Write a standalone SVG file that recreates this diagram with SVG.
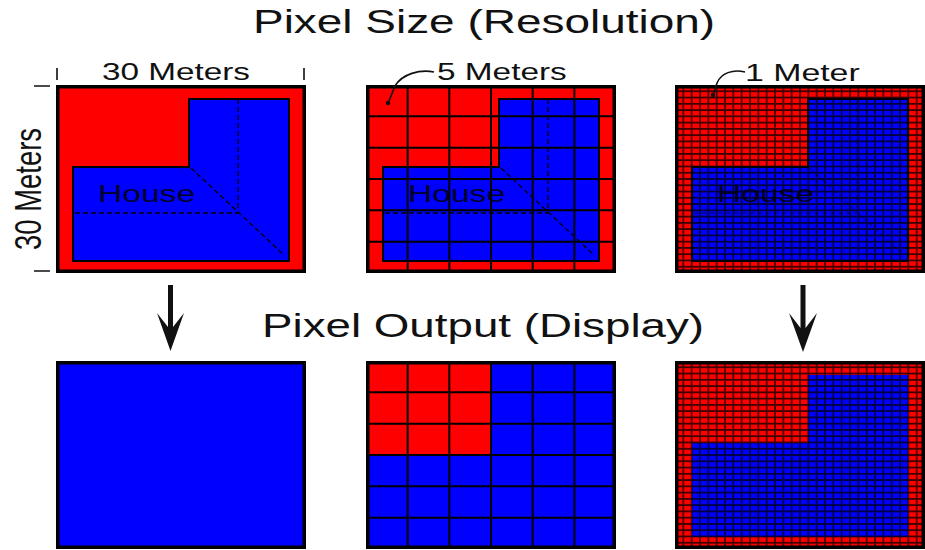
<svg xmlns="http://www.w3.org/2000/svg" width="925" height="550" viewBox="0 0 925 550">
  <style>
    .txt{font-family:"Liberation Sans",Arial,Helvetica,sans-serif;fill:#111}
    .house-lbl{font-family:"Liberation Sans",Arial,Helvetica,sans-serif;fill:#00002a;font-size:24px}
    .red{fill:#ff0000}
    .blue{fill:#0000ff}
    .house{fill:#0000ff;stroke:#000;stroke-width:2}
    .frame{fill:none;stroke:#000;stroke-width:3.5}
    .grid5{fill:none;stroke:#000;stroke-width:2}
    .dash{fill:none;stroke:#000;stroke-width:1.3;stroke-dasharray:5 3}
    .lead{fill:none;stroke:#111;stroke-width:1.6}
    .tick{fill:none;stroke:#111;stroke-width:1.6}
  </style>
  <defs>
    <!-- 1 m cell: 30 x 30 cells over a 250 x 188 panel -->
    <pattern id="grid1m" patternUnits="userSpaceOnUse" width="8.3333" height="6.2667">
      <path d="M0,0V6.2667M8.3333,0V6.2667M0,0H8.3333M0,6.2667H8.3333" fill="none" stroke="#000" stroke-width="1.6" stroke-opacity="0.75"/>
    </pattern>
    <filter id="soft" x="-2%" y="-2%" width="104%" height="104%">
      <feGaussianBlur stdDeviation="0.7"/>
    </filter>
    <polygon id="houseShape" points="17,82 133,82 133,14 233,14 233,176 17,176"/>
  </defs>

  <!-- headings (wide lettering) -->
  <text class="txt" font-size="33.3" transform="translate(253,33) scale(1.38,1)">Pixel Size (Resolution)</text>
  <text class="txt" font-size="34" transform="translate(262,337) scale(1.345,1)">Pixel Output (Display)</text>

  <!-- 30 m dimension marks -->
  <g id="dimensions">
    <path class="tick" d="M57,68V80M304,68V80M34,86H50M34,271H50"/>
    <text class="txt" font-size="24" transform="translate(102,80) scale(1.387,1)">30 Meters</text>
    <text class="txt" font-size="28" textLength="122" lengthAdjust="spacingAndGlyphs" transform="translate(41,250) scale(1.3,1) rotate(-90)">30 Meters</text>
  </g>

  <!-- 30 m pixel: scene -->
  <g id="res30" transform="translate(56,85)">
    <rect class="red" x="0" y="0" width="250" height="188"/>
    <use href="#houseShape" class="house"/>
    <path class="dash" d="M182,14V128H17M135,83L228,170"/>
    <text class="house-lbl" transform="translate(42,117) scale(1.4,1)">House</text>
    <rect class="frame" x="1.75" y="1.75" width="246.5" height="184.5"/>
  </g>

  <!-- 5 m pixel: scene -->
  <g id="res5" transform="translate(366,85)">
    <rect class="red" x="0" y="0" width="250" height="188"/>
    <use href="#houseShape" class="house"/>
    <path class="dash" d="M182,14V128H17M135,83L228,170"/>
    <text class="house-lbl" transform="translate(42,117) scale(1.4,1)">House</text>
    <path class="grid5" d="M41.67,0V188M83.33,0V188M125,0V188M166.67,0V188M208.33,0V188M0,31.33H250M0,62.67H250M0,94H250M0,125.33H250M0,156.67H250"/>
    <rect class="frame" x="1.75" y="1.75" width="246.5" height="184.5"/>
  </g>
  <g id="label5m">
    <path class="lead" d="M434,72C420,69 402,74 395,86L389,101"/>
    <circle cx="388" cy="103" r="2.2" fill="#111"/>
    <text class="txt" font-size="24" transform="translate(437,80) scale(1.39,1)">5 Meters</text>
  </g>

  <!-- 1 m pixel: scene -->
  <g id="res1" transform="translate(675,85)">
    <rect class="red" x="0" y="0" width="250" height="188"/>
    <use href="#houseShape" class="house"/>
    <path class="dash" d="M182,14V128H17M135,83L228,170" stroke-opacity="0.4"/>
    <text class="house-lbl" transform="translate(42,117) scale(1.4,1)">House</text>
    <rect x="0" y="0" width="250" height="188" fill="url(#grid1m)" filter="url(#soft)"/>
    <rect class="frame" x="1.75" y="1.75" width="246.5" height="184.5"/>
  </g>
  <g id="label1m">
    <path class="lead" d="M745,72C733,69 721,73 717,83L714,93"/>
    <circle cx="713" cy="95" r="2.2" fill="#111"/>
    <text class="txt" font-size="24" transform="translate(745,81) scale(1.41,1)">1 Meter</text>
  </g>

  <!-- displayed output -->
  <g id="out30" transform="translate(56,361)">
    <rect class="blue" x="0" y="0" width="250" height="188"/>
    <rect class="frame" x="1.75" y="1.75" width="246.5" height="184.5"/>
  </g>

  <g id="out5" transform="translate(366,361)">
    <rect class="blue" x="0" y="0" width="250" height="188"/>
    <rect class="red" x="0" y="0" width="125" height="94"/>
    <path class="grid5" d="M41.67,0V188M83.33,0V188M125,0V188M166.67,0V188M208.33,0V188M0,31.33H250M0,62.67H250M0,94H250M0,125.33H250M0,156.67H250"/>
    <rect class="frame" x="1.75" y="1.75" width="246.5" height="184.5"/>
  </g>

  <g id="out1" transform="translate(675,361)">
    <rect class="red" x="0" y="0" width="250" height="188"/>
    <use href="#houseShape" class="blue"/>
    <rect x="0" y="0" width="250" height="188" fill="url(#grid1m)" filter="url(#soft)"/>
    <rect class="frame" x="1.75" y="1.75" width="246.5" height="184.5"/>
  </g>

  <!-- arrows from scene to display -->
  <g id="connectors" fill="#111">
    <path d="M168,285H173V327L184,313L170.5,351L157,313L168,327Z"/>
    <path d="M800.5,285H805.5V328L817,313L803,352L789,313L800.5,328Z"/>
  </g>
</svg>
